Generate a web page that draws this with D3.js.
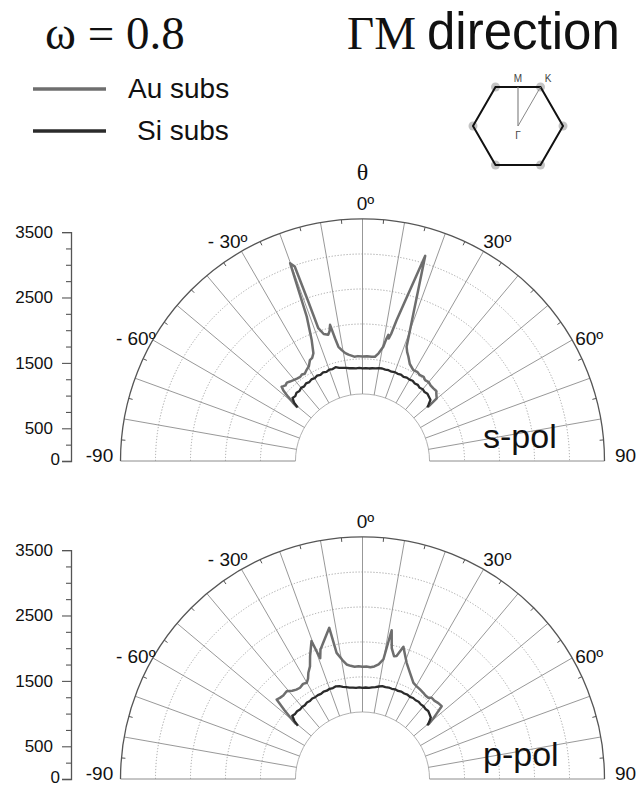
<!DOCTYPE html>
<html>
<head>
<meta charset="utf-8">
<script src="https://cdn.jsdelivr.net/npm/d3@7"></script>
<style>
    body { margin: 0; background: #fff; }
    text { font-family: "Liberation Sans", Arial, sans-serif; fill: #111; }
</style>
</head>
<body>
<svg width="637" height="786"></svg>
<script>
// angle labels around the half circle
const angleTicks = [-90, -60, -30, 0, 30, 60, 90];
const angleTickLabels = ["-90", "- 60º", "- 30º", "0º", "30º", "60º", "90"];
// left intensity axis
const axisLabelValues = [0, 500, 1500, 2500, 3500];

// s-pol, Au substrate (angle in degrees, intensity)
const sAuAngle = [-50.5, -50.0, -49.2, -48.3, -47.4, -46.6, -45.5, -44.0, -42.4, -40.5, -38.5, -36.5, -35.0, -33.5,
    -31.5, -29.5, -27.5, -26.0, -24.5, -22.8, -21.1, -20.1, -19.2, -18.8, -18.4, -17.0, -15.2, -14.2, -13.4,
    -12.6, -11.9, -10.5, -9.0, -7.5, -6.0, -4.5, -2.5, 0, 2.5, 5.0, 6.8, 8.5, 10.3, 11.0, 11.6, 12.1, 12.7,
    13.6, 17.0, 21.1, 22.3, 23.7, 26.0, 29.2, 31.5, 33.5, 36.0, 37.7, 40.0, 42.0, 44.3, 46.5, 48.0, 49.8, 50.5];
const sAuValue = [1300, 1390, 1500, 1620, 1680, 1665, 1650, 1665, 1645, 1625, 1610, 1600, 1615, 1600,
    1635, 1665, 1740, 1755, 1810, 2005, 2370, 3220, 3150, 2600, 2140, 2030, 2000, 2050, 2140,
    1920, 1785, 1720, 1670, 1640, 1620, 1600, 1605, 1598, 1602, 1600, 1605, 1665, 1775, 1895, 1970, 1915, 1990,
    2215, 3280, 1873, 1800, 1745, 1650, 1593, 1600, 1580, 1590, 1564, 1575, 1555, 1552, 1555, 1520, 1485, 1305];

// p-pol, Au substrate
const pAuAngle = [-50.5, -50.1, -48.6, -47.2, -45.5, -43.5, -40.8, -38.5, -36.5, -34.4, -32.0, -30.1, -28.5,
    -27.0, -25.0, -23.1, -20.3, -19.3, -18.0, -16.1, -12.4, -11.6, -9.5, -7.9, -6.0, -4.0, -2.0, 0, 2.0, 4.0,
    6.0, 8.0, 9.9, 11.1, 12.6, 14.4, 15.5, 17.2, 18.5, 20.8, 24.1, 27.9, 30.5, 32.7, 35.2, 37.0, 39.0, 40.4,
    42.5, 45.0, 47.4, 48.5, 49.5, 50.4];
const pAuValue = [1315, 1376, 1590, 1789, 1770, 1760, 1774, 1725, 1700, 1691, 1715, 1700, 1745,
    1823, 1900, 2043, 2248, 1957, 2080, 2167, 2367, 1969, 1840, 1768, 1740, 1720, 1725, 1716, 1720, 1712,
    1730, 1770, 1855, 2318, 2050, 1939, 1950, 2116, 2030, 1901, 1778, 1664, 1640, 1627, 1613, 1600, 1598, 1632,
    1625, 1640, 1645, 1520, 1420, 1307];

// Si substrate, same angles for both polarisations
const siAngle = [-50.5, -49.5, -48, -46, -44, -42, -40, -38, -36, -34, -32, -30, -28, -26, -24, -22, -20, -18,
    -16, -14, -12, -10, -8, -6, -4, -2, 0, 2, 4, 6, 8, 10, 12, 14, 16, 18, 20, 22, 24, 26, 28, 30, 32, 34, 36,
    38, 40, 42, 44, 46, 48, 49.5, 50.5];
const sSiValue = [1285, 1375, 1440, 1428, 1452, 1440, 1460, 1448, 1468, 1455, 1472, 1462, 1478, 1466, 1482, 1470, 1486, 1478,
    1492, 1468, 1455, 1446, 1432, 1428, 1420, 1424, 1416, 1421, 1418, 1426, 1431, 1441, 1446, 1440, 1444, 1436, 1446, 1437,
    1446, 1432, 1443, 1437, 1446, 1430, 1439, 1420, 1433, 1418, 1429, 1412, 1398, 1330, 1285];
const pSiValue = [1280, 1370, 1445, 1432, 1440, 1428, 1438, 1432, 1445, 1438, 1450, 1444, 1452, 1448, 1462, 1456, 1468, 1462,
    1474, 1462, 1440, 1425, 1412, 1405, 1398, 1402, 1394, 1400, 1396, 1408, 1420, 1436, 1452, 1448, 1455, 1450, 1460, 1452,
    1462, 1455, 1462, 1450, 1460, 1452, 1460, 1448, 1452, 1440, 1446, 1425, 1405, 1340, 1285];

const svg = d3.select("svg");
const cx = 362.5, R = 242;
const rMax = 3700, rInner = 1025;   // value at outer / inner circle
const rScale = d3.scaleLinear().domain([0, rMax]).range([0, R]);
const rad = a => a * Math.PI / 180;

const au_color = "#6e6e6e", si_color = "#2b2b2b";

// titles
svg.append("text").attr("x", 45).attr("y", 49)
    .style("font-family", "'Liberation Serif', serif").style("font-size", "47px")
    .text("ω = 0.8");
svg.append("text").attr("x", 347).attr("y", 49)
    .style("font-family", "'Liberation Serif', serif").style("font-size", "47px")
    .text("ΓM");
svg.append("text").attr("x", 427).attr("y", 49)
    .style("font-size", "51px").text("direction");

// legend
const legend = [{name: "Au subs", color: au_color, y: 89, tx: 128},
    {name: "Si subs", color: si_color, y: 131, tx: 137}];
legend.forEach(l => {
    svg.append("line").attr("x1", 33).attr("x2", 106).attr("y1", l.y).attr("y2", l.y)
        .attr("stroke", l.color).attr("stroke-width", 3.4);
    svg.append("text").attr("x", l.tx).attr("y", l.y + 9)
        .style("font-size", "28px").text(l.name);
});

// Brillouin zone hexagon
const hex = svg.append("g").attr("transform", "translate(518,126)");
const hexR = 45;
const hexPts = d3.range(6).map(i => [hexR * Math.cos(i * Math.PI / 3), hexR * Math.sin(i * Math.PI / 3)]);
hex.selectAll("circle").data(hexPts).enter().append("circle")
    .attr("cx", d => d[0]).attr("cy", d => d[1]).attr("r", 4.5).attr("fill", "#c4c4c4");
hex.append("path").attr("d", d3.line()(hexPts) + "Z")
    .attr("fill", "none").attr("stroke", "#111").attr("stroke-width", 2);
hex.append("line").attr("x1", 0).attr("y1", 0).attr("x2", 0).attr("y2", -hexR * Math.sqrt(3) / 2)
    .attr("stroke", "#888").attr("stroke-width", 1.2);
hex.append("line").attr("x1", 0).attr("y1", 0).attr("x2", hexR / 2).attr("y2", -hexR * Math.sqrt(3) / 2)
    .attr("stroke", "#888").attr("stroke-width", 1);
hex.selectAll("text.bz").data([["M", 0, -44], ["K", 30, -44], ["Γ", 0, 13]]).enter().append("text")
    .attr("class", "bz")
    .attr("x", d => d[1]).attr("y", d => d[2]).attr("text-anchor", "middle")
    .style("font-size", "10px").style("fill", "#444").text(d => d[0]);

// theta label
svg.append("text").attr("x", cx).attr("y", 180).attr("text-anchor", "middle")
    .style("font-family", "'Liberation Serif', serif").style("font-size", "24px").text("θ");

function halfCircle(r) {
    const p = d3.path();
    p.arc(0, 0, r, Math.PI, 2 * Math.PI);
    return p.toString();
}

function panel(cy, auAngle, auValue, siValues, tag) {
    const g = svg.append("g").attr("transform", `translate(${cx},${cy})`);
    const r0 = rScale(rInner);

    // dotted rings
    const rings = d3.range(1, 5).map(i => rInner + i * (rMax - rInner) / 5);
    g.selectAll("path.ring").data(rings).enter().append("path")
        .attr("class", "ring")
        .attr("d", d => halfCircle(rScale(d)))
        .attr("fill", "none").attr("stroke", "#9a9a9a").attr("stroke-width", 0.9)
        .attr("stroke-dasharray", "1.2,1.8");
    g.append("path").attr("d", halfCircle(r0))
        .attr("fill", "none").attr("stroke", "#a8a8a8").attr("stroke-width", 0.9);

    // spokes every 10 degrees
    const spokes = d3.range(-80, 81, 10);
    g.selectAll("line.spoke").data(spokes).enter().append("line")
        .attr("class", "spoke")
        .attr("x1", d => r0 * Math.sin(rad(d))).attr("y1", d => -r0 * Math.cos(rad(d)))
        .attr("x2", d => R * Math.sin(rad(d))).attr("y2", d => -R * Math.cos(rad(d)))
        .attr("stroke", "#8c8c8c").attr("stroke-width", 0.9);
    // baseline
    [[-R, -r0], [r0, R]].forEach(s => {
        g.append("line").attr("x1", s[0]).attr("x2", s[1]).attr("y1", 0).attr("y2", 0)
            .attr("stroke", "#8c8c8c").attr("stroke-width", 1);
    });

    // outer arc and small 5 degree ticks
    g.append("path").attr("d", halfCircle(R))
        .attr("fill", "none").attr("stroke", "#555").attr("stroke-width", 1.3);
    const minor = d3.range(-85, 86, 10);
    g.selectAll("line.mt").data(minor).enter().append("line")
        .attr("class", "mt")
        .attr("x1", d => R * Math.sin(rad(d))).attr("y1", d => -R * Math.cos(rad(d)))
        .attr("x2", d => (R - 4) * Math.sin(rad(d))).attr("y2", d => -(R - 4) * Math.cos(rad(d)))
        .attr("stroke", "#555").attr("stroke-width", 1);

    // angle labels
    angleTicks.forEach((a, i) => {
        const shift = Math.abs(a) === 90 || a === 0 ? 0 : Math.sign(a) * 1.5;
        const lr = Math.abs(a) === 90 ? 263 : 258;
        const x = lr * Math.sin(rad(a + shift)), y = -lr * Math.cos(rad(a + shift));
        g.append("text")
            .attr("x", x + (a === 0 ? 3 : 0)).attr("y", Math.abs(a) === 90 ? 1 : y + 7)
            .attr("text-anchor", "middle")
            .style("font-size", "19px")
            .text(angleTickLabels[i]);
    });

    // intensity axis on the left
    const yScale = d3.scaleLinear().domain([0, 3500]).range([0, -rScale(3500)]);
    const ax = svg.append("g").attr("transform", `translate(71,${cy})`)
        .call(d3.axisLeft(yScale)
            .tickValues(d3.range(0, 3501, 250))
            .tickSizeOuter(0)
            .tickPadding(8)
            .tickSize(9)
            .tickFormat(d => axisLabelValues.includes(d) ? d : ""));
    ax.select(".domain").attr("stroke", "#555").attr("stroke-width", 1.3);
    ax.selectAll(".tick line").attr("stroke", "#555").attr("stroke-width", 1.1)
        .attr("x2", d => d % 1000 === 500 || d === 0 ? -9 : -5);
    ax.selectAll(".tick text").style("font-size", "17px").style("font-family", "'Liberation Sans', Arial, sans-serif")
        .attr("fill", "#111").attr("x", d => d === 0 ? -11 : -18)
        .attr("dy", d => d === 0 ? "0.2em" : "0.32em");

    // curves
    const radial = d3.lineRadial()
        .angle(d => rad(d[0]))
        .radius(d => rScale(d[1]));
    g.append("path").datum(auAngle.map((a, i) => [a, auValue[i]]))
        .attr("d", radial)
        .attr("fill", "none").attr("stroke", au_color).attr("stroke-width", 2.5)
        .attr("stroke-linejoin", "round");
    g.append("path").datum(siAngle.map((a, i) => [a, siValues[i]]))
        .attr("d", radial)
        .attr("fill", "none").attr("stroke", si_color).attr("stroke-width", 2.3)
        .attr("stroke-linejoin", "round");

    svg.append("text").attr("x", 483).attr("y", cy - 13)
        .style("font-size", "34px").text(tag);
}

panel(461, sAuAngle, sAuValue, sSiValue, "s-pol");
panel(779, pAuAngle, pAuValue, pSiValue, "p-pol");
</script>
</body>
</html>
